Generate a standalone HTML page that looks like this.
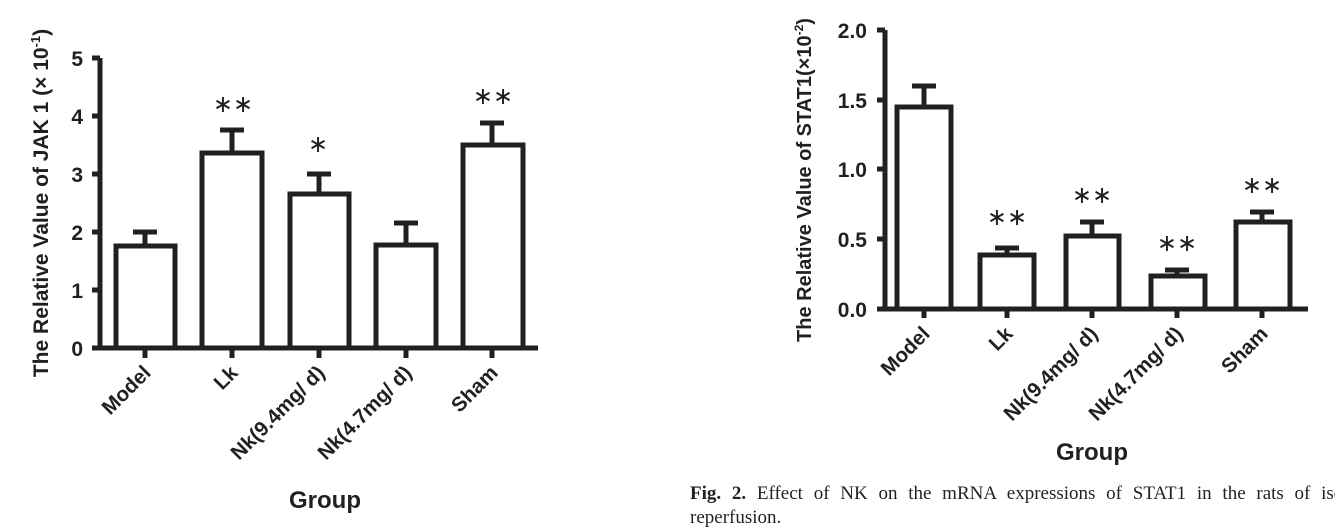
<!DOCTYPE html>
<html><head><meta charset="utf-8"><style>
html,body{margin:0;padding:0;background:#fff;width:1335px;height:529px;overflow:hidden}
svg text{font-family:"Liberation Sans",Arial,sans-serif;font-weight:bold;fill:#231f20}
</style></head><body>
<svg width="1335" height="529" viewBox="0 0 1335 529" xmlns="http://www.w3.org/2000/svg">
<g stroke="#231f20" stroke-width="5" fill="none" stroke-linecap="butt">
<line x1="100" y1="58" x2="100" y2="350"/>
<line x1="92" y1="348" x2="538" y2="348"/>
<line x1="92" y1="58" x2="100" y2="58"/>
<line x1="92" y1="116" x2="100" y2="116"/>
<line x1="92" y1="174" x2="100" y2="174"/>
<line x1="92" y1="232" x2="100" y2="232"/>
<line x1="92" y1="290" x2="100" y2="290"/>
<line x1="145" y1="348" x2="145" y2="358"/>
<line x1="232" y1="348" x2="232" y2="358"/>
<line x1="319" y1="348" x2="319" y2="358"/>
<line x1="406" y1="348" x2="406" y2="358"/>
<line x1="492" y1="348" x2="492" y2="358"/>
<rect x="116" y="246" width="59" height="102"/>
<rect x="202" y="153" width="60" height="195"/>
<rect x="290" y="194" width="59" height="154"/>
<rect x="376" y="245" width="60" height="103"/>
<rect x="463" y="145" width="60" height="203"/>
<line x1="145" y1="246" x2="145" y2="232"/><line x1="133" y1="232" x2="157" y2="232"/>
<line x1="232" y1="153" x2="232" y2="130"/><line x1="220" y1="130" x2="244" y2="130"/>
<line x1="319" y1="194" x2="319" y2="174"/><line x1="307" y1="174" x2="331" y2="174"/>
<line x1="406" y1="245" x2="406" y2="223"/><line x1="394" y1="223" x2="418" y2="223"/>
<line x1="492" y1="145" x2="492" y2="123"/><line x1="480" y1="123" x2="504" y2="123"/>

<line x1="885" y1="30" x2="885" y2="311"/>
<line x1="877" y1="309" x2="1308" y2="309"/>
<line x1="877" y1="30" x2="885" y2="30"/>
<line x1="877" y1="100" x2="885" y2="100"/>
<line x1="877" y1="169" x2="885" y2="169"/>
<line x1="877" y1="239" x2="885" y2="239"/>
<line x1="924" y1="309" x2="924" y2="318"/>
<line x1="1007" y1="309" x2="1007" y2="318"/>
<line x1="1092" y1="309" x2="1092" y2="318"/>
<line x1="1177" y1="309" x2="1177" y2="318"/>
<line x1="1262" y1="309" x2="1262" y2="318"/>
<rect x="897" y="107" width="54" height="202"/>
<rect x="980" y="255" width="54" height="54"/>
<rect x="1066" y="236" width="53" height="73"/>
<rect x="1151" y="276" width="54" height="33"/>
<rect x="1236" y="222" width="54" height="87"/>
<line x1="924" y1="107" x2="924" y2="86"/><line x1="912" y1="86" x2="936" y2="86"/>
<line x1="1007" y1="255" x2="1007" y2="248"/><line x1="995" y1="248" x2="1019" y2="248"/>
<line x1="1092" y1="236" x2="1092" y2="222"/><line x1="1080" y1="222" x2="1104" y2="222"/>
<line x1="1177" y1="276" x2="1177" y2="270"/><line x1="1165" y1="270" x2="1189" y2="270"/>
<line x1="1262" y1="222" x2="1262" y2="212"/><line x1="1250" y1="212" x2="1274" y2="212"/>
</g>

<g font-size="21" text-anchor="end">
<text x="83" y="66">5</text><text x="83" y="124">4</text><text x="83" y="182">3</text>
<text x="83" y="240">2</text><text x="83" y="298">1</text><text x="83" y="356">0</text>
</g>
<text transform="translate(48,203) rotate(-90)" font-size="21" text-anchor="middle">The Relative Value of JAK 1 (× 10<tspan font-size="13" dy="-8">-1</tspan><tspan dy="8">)</tspan></text>
<g font-size="20.5" text-anchor="end">
<text transform="translate(152,374) rotate(-45)">Model</text>
<text transform="translate(239,374) rotate(-45)">Lk</text>
<text transform="translate(326,374) rotate(-45)">Nk(9.4mg/ d)</text>
<text transform="translate(413,374) rotate(-45)">Nk(4.7mg/ d)</text>
<text transform="translate(499,374) rotate(-45)">Sham</text>
</g>
<text x="325" y="508" font-size="24" text-anchor="middle">Group</text>
<g font-size="24" text-anchor="middle">
<text x="233" y="112" style="font-weight:normal">∗∗</text>
<text x="318" y="152" style="font-weight:normal">∗</text>
<text x="493" y="104" style="font-weight:normal">∗∗</text>
<text x="1007" y="225" style="font-weight:normal">∗∗</text>
<text x="1092" y="203" style="font-weight:normal">∗∗</text>
<text x="1177" y="251" style="font-weight:normal">∗∗</text>
<text x="1262" y="193" style="font-weight:normal">∗∗</text>
</g>

<g font-size="21" text-anchor="end">
<text x="867" y="38">2.0</text><text x="867" y="108">1.5</text><text x="867" y="177">1.0</text>
<text x="867" y="247">0.5</text><text x="867" y="317">0.0</text>
</g>
<text transform="translate(811,180) rotate(-90)" font-size="20" text-anchor="middle">The Relative Value of STAT1(×10<tspan font-size="12" dy="-8">-2</tspan><tspan dy="8">)</tspan></text>
<g font-size="20.5" text-anchor="end">
<text transform="translate(931,335) rotate(-45)">Model</text>
<text transform="translate(1014,335) rotate(-45)">Lk</text>
<text transform="translate(1099,335) rotate(-45)">Nk(9.4mg/ d)</text>
<text transform="translate(1184,335) rotate(-45)">Nk(4.7mg/ d)</text>
<text transform="translate(1269,335) rotate(-45)">Sham</text>
</g>
<text x="1092" y="460" font-size="24" text-anchor="middle">Group</text>

<text x="690" y="499" font-size="19" word-spacing="6" style="font-family:'Liberation Serif',serif;font-weight:normal"><tspan style="font-weight:bold">Fig. 2.</tspan> Effect of NK on the mRNA expressions of STAT1 in the rats of isc</text>
<text x="690" y="523" font-size="19" style="font-family:'Liberation Serif',serif;font-weight:normal">reperfusion.</text>
</svg>
</body></html>
